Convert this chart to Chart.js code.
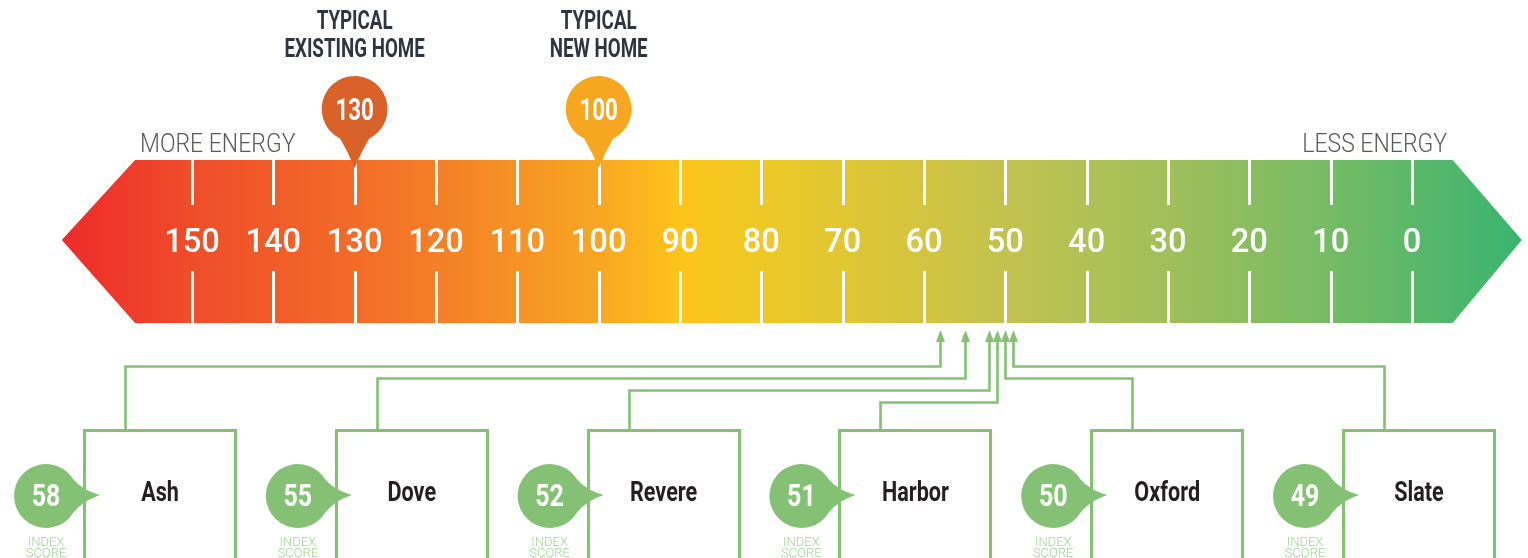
<!DOCTYPE html>
<html>
<head>
<meta charset="utf-8">
<script src="https://cdn.jsdelivr.net/npm/chart.js@4"></script>
<style>
  body { margin: 0; background: #fff; }
  #wrap { width: 1528px; height: 558px; }
</style>
</head>
<body>
<div id="wrap"><canvas id="myChart" width="1528" height="558"></canvas></div>
<script>
// scale values along the band
const tickValues = [150, 140, 130, 120, 110, 100, 90, 80, 70, 60, 50, 40, 30, 20, 10, 0];
const endLabels = ["MORE ENERGY", "LESS ENERGY"];

// typical homes (pins above the band)
const typicalScores = [130, 100];
const typicalLabels = [["TYPICAL", "EXISTING HOME"], ["TYPICAL", "NEW HOME"]];

// the homes
const homeNames = ["Ash", "Dove", "Revere", "Harbor", "Oxford", "Slate"];
const homeScores = [58, 55, 52, 51, 50, 49];
const scoreCaption = ["INDEX", "SCORE"];

// styles
const pinColors = ["#D9622A", "#F6A71F"];
const green = "#84C175";
const greenLight = "#A6D39C";
const darkText = "#2F3540";
const bandStops = [
  [166, "#EE2A2A"], [150, "#EF4D2A"], [130, "#F26B28"], [100, "#F8A623"],
  [90, "#FDC41B"], [80, "#EDC926"], [60, "#D3C440"], [50, "#C2C24F"],
  [30, "#A0BF5A"], [10, "#75BB65"], [-13.5, "#39B46F"]
];

function condText(c, str, x, y, font, sx, color, align) {
  c.save();
  c.font = font;
  c.fillStyle = color;
  c.textAlign = align || "center";
  c.textBaseline = "alphabetic";
  c.translate(x, y);
  c.scale(sx, 1);
  c.fillText(str, 0, 0);
  c.restore();
}

const hersPlugin = {
  id: "hersDraw",
  afterDraw: (chart) => {
    const c = chart.ctx;
    const xs = chart.scales.x;
    const X = (v) => xs.getPixelForValue(v);
    const top = 160, bottom = 323, mid = 240;

    // band
    const leftTip = X(166), leftEdge = X(157), rightEdge = X(-5), rightTip = X(-13.5);
    const grad = c.createLinearGradient(leftTip, 0, rightTip, 0);
    bandStops.forEach(([v, col]) => {
      let f = (X(v) - leftTip) / (rightTip - leftTip);
      grad.addColorStop(Math.min(1, Math.max(0, f)), col);
    });
    c.save();
    c.beginPath();
    c.moveTo(leftTip, mid);
    c.lineTo(leftEdge, top);
    c.lineTo(rightEdge, top);
    c.lineTo(rightTip, mid);
    c.lineTo(rightEdge, bottom);
    c.lineTo(leftEdge, bottom);
    c.closePath();
    c.fillStyle = grad;
    c.fill();

    // ticks + labels
    c.strokeStyle = "#fff";
    c.lineWidth = 3;
    tickValues.forEach((v) => {
      const x = Math.round(X(v)) + 0.5;
      c.beginPath();
      c.moveTo(x, top); c.lineTo(x, 205);
      c.moveTo(x, 271); c.lineTo(x, bottom);
      c.stroke();
      condText(c, String(v), X(v), 252, "500 34px Roboto", 0.96, "#fff", "center");
    });
    c.restore();

    // end labels
    condText(c, endLabels[0], 140, 152, "300 25px Roboto", 0.92, "#58595B", "left");
    condText(c, endLabels[1], 1447, 152, "300 25px Roboto", 0.92, "#58595B", "right");

    // pins
    typicalScores.forEach((v, i) => {
      const cx = X(v), cy = 109, r = 33;
      c.save();
      c.fillStyle = pinColors[i];
      c.beginPath();
      c.arc(cx, cy, r, Math.PI / 2 + 0.45, Math.PI / 2 - 0.45);
      c.quadraticCurveTo(cx + 6, cy + 44, cx, 168);
      c.quadraticCurveTo(cx - 6, cy + 44, cx - r * Math.sin(0.45), cy + r * Math.cos(0.45));
      c.closePath();
      c.fill();
      c.restore();
      condText(c, String(v), cx, 120, "bold 31px Roboto", 0.72, "#fff", "center");
      condText(c, typicalLabels[i][0], cx, 29, "bold 25px Roboto", 0.75, darkText, "center");
      condText(c, typicalLabels[i][1], cx, 57, "bold 25px Roboto", 0.75, darkText, "center");
    });

    // homes
    const n = homeNames.length;
    const step = 251.8, boxL0 = 83, boxW = 154, boxTop = 429;
    c.save();
    c.lineWidth = 2.6;
    c.strokeStyle = green;
    c.fillStyle = green;
    c.lineJoin = "miter";
    // connectors
    homeScores.forEach((v, i) => {
      const stubX = Math.round(boxL0 + i * step + 42) + 0.5;
      const ax = Math.round(X(v)) + 0.5;
      // count of levels from the nearer side
      let k;
      if (stubX < ax) k = homeScores.filter((s, j) => j < i && boxL0 + j * step + 42 < X(s)).length;
      else k = homeScores.filter((s, j) => j > i && boxL0 + j * step + 42 > X(s)).length;
      const ly = 366.5 + 12 * k;
      c.beginPath();
      c.moveTo(stubX, boxTop);
      c.lineTo(stubX, ly);
      c.lineTo(ax, ly);
      c.lineTo(ax, 340);
      c.stroke();
      c.beginPath();
      c.moveTo(ax, 330);
      c.lineTo(ax - 4.5, 342);
      c.lineTo(ax + 4.5, 342);
      c.closePath();
      c.fill();
    });
    // boxes and badges
    homeNames.forEach((name, i) => {
      const bl = boxL0 + i * step;
      c.strokeStyle = green;
      c.lineWidth = 3;
      c.strokeRect(Math.round(bl) + 1.5, boxTop + 1.5, boxW - 3, 200);
      condText(c, name, bl + boxW / 2, 501, "bold 27px Roboto", 0.8, "#231F20", "center");

      const cx = bl - 37, cy = 496, r = 32;
      c.fillStyle = green;
      c.beginPath();
      c.arc(cx, cy, r, 0.55, Math.PI * 2 - 0.55);
      c.quadraticCurveTo(cx + 36, cy - 6, cx + 54, cy - 1);
      c.quadraticCurveTo(cx + 36, cy + 5, cx + r * Math.cos(0.55), cy + r * Math.sin(0.55));
      c.closePath();
      c.fill();
      condText(c, String(homeScores[i]), cx, 506, "bold 32px Roboto", 0.78, "#fff", "center");
      condText(c, scoreCaption[0], cx, 546, "300 13px Roboto", 1, greenLight, "center");
      condText(c, scoreCaption[1], cx, 557, "300 13px Roboto", 1, greenLight, "center");
    });
    c.restore();
  },
};

const ctx = document.getElementById("myChart");

var chart = new Chart(ctx, {
  type: "scatter",
  data: {
    datasets: [
      { label: "Homes", data: homeScores.map((v) => ({ x: v, y: 0.5 })), pointRadius: 0 },
      { label: "Typical", data: typicalScores.map((v) => ({ x: v, y: 0.5 })), pointRadius: 0 },
    ],
  },
  options: {
    responsive: false,
    animation: false,
    devicePixelRatio: 1,
    layout: { padding: 0 },
    plugins: { legend: { display: false }, tooltip: { enabled: false } },
    scales: {
      x: { type: "linear", min: -14.26, max: 173.6, reverse: true, display: false },
      y: { min: 0, max: 1, display: false },
    },
  },
  plugins: [hersPlugin],
});
</script>
</body>
</html>
